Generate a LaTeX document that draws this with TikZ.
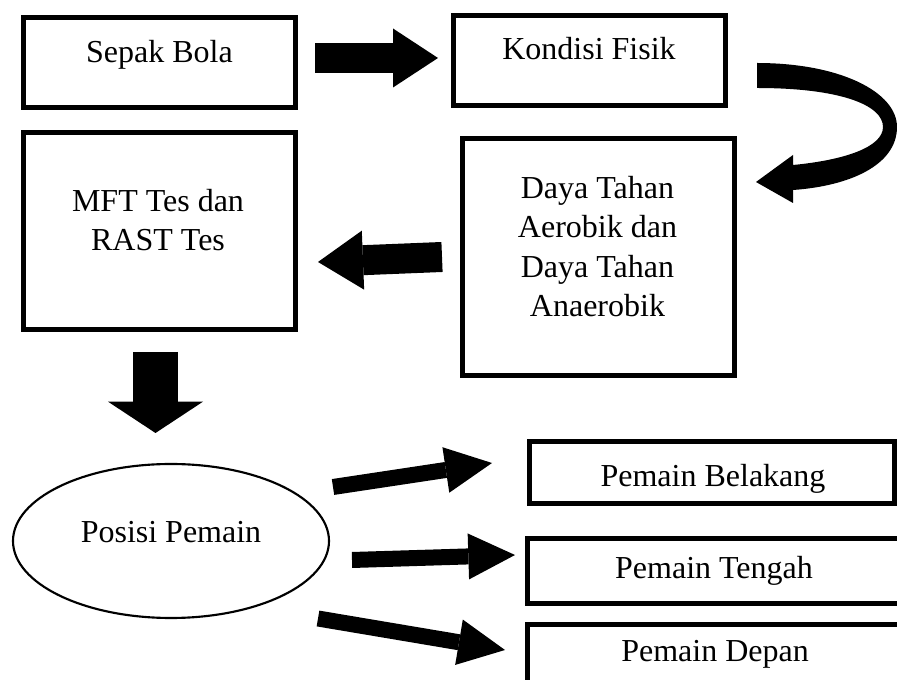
\documentclass[tikz,border=0pt]{standalone}
\usepackage{fontspec}
\setmainfont{Liberation Serif}
\usetikzlibrary{arrows.meta,shapes.geometric}
\tikzset{
  bx/.style 2 args={draw, line width=4.1pt, inner sep=0pt, minimum width=#1*0.75pt, minimum height=#2*0.75pt},
  ell/.style 2 args={draw, ellipse, line width=1.6pt, inner sep=0pt, minimum width=#1*0.75pt, minimum height=#2*0.75pt},
  txt/.style={inner sep=0pt, font=\fontsize{24}{29.5}\selectfont, align=center},
  bigarrow/.style={line width=22.5pt, -{Triangle[width=44.25pt,length=33.75pt,line width=0pt]}},
  downarrow/.style={line width=33.75pt, -{Triangle[width=71.25pt,length=23.5pt,line width=0pt]}},
  thinarrow/.style={line width=12pt, -{Triangle[width=34.5pt,length=35pt,line width=0pt]}},
  curvarrow/.style={fill=black, draw=none},
}
\begin{document}
\begin{tikzpicture}[x=0.75pt,y=-0.75pt]
\path[use as bounding box, clip] (0,0) rectangle (897,680);
% boxes
\node[bx={271.5}{89.5}] (sepak) at (159.5,62.5) {};
\node[bx={271.5}{89.5}] (kondisi) at (589.5,60.5) {};
\node[bx={271.5}{236.5}] (daya) at (598.5,257) {};
\node[bx={271.5}{196.5}] (mft) at (159.5,231) {};
\node[bx={364.5}{61.5}] (belakang) at (712,472.5) {};
\node[bx={419.5}{64.5}] (tengah) at (737.5,571) {};
\node[bx={419.5}{92.5}] (depan) at (737.5,671) {};
\node[ell={316}{154}] (posisi) at (171,541) {};
% texts
\node[txt, anchor=base] (tsepak) at (159.5,63) {Sepak Bola};
\node[txt, anchor=base] (tkondisi) at (589,60) {Kondisi Fisik};
\node[txt] (tmft) at (158,220) {MFT Tes dan\\RAST Tes};
\node[txt] (tdaya) at (597.5,246.5) {Daya Tahan\\Aerobik dan\\Daya Tahan\\Anaerobik};
\node[txt, anchor=base] (tposisi) at (171,543) {Posisi Pemain};
\node[txt, anchor=base] (tbelakang) at (713,487) {Pemain Belakang};
\node[txt, anchor=base] (ttengah) at (714,579) {Pemain Tengah};
\node[txt, anchor=base] (tdepan) at (715,662) {Pemain Depan};
% arrow end points
\coordinate (a1s) at (315,58);   \coordinate (a1e) at (438,58);
\coordinate (a2s) at (442,257);  \coordinate (a2e) at (318,262);
\coordinate (a3s) at (155.5,352); \coordinate (a3e) at (155.5,433);
\coordinate (a4s) at (333,487);  \coordinate (a4e) at (492,463);
\coordinate (a5s) at (352,560);  \coordinate (a5e) at (515,555);
\coordinate (a6s) at (318,618.5); \coordinate (a6e) at (505,650);
\coordinate (c1o) at (757,63);  \coordinate (c1i) at (757,88);
\coordinate (c1tip) at (756,182);
% arrows
\draw[bigarrow] (a1s) -- (a1e);
\draw[bigarrow] (a2s) -- (a2e);
\draw[downarrow] (a3s) -- (a3e);
\draw[thinarrow] (a4s) -- (a4e);
\draw[thinarrow] (a5s) -- (a5e);
\draw[thinarrow] (a6s) -- (a6e);
\fill[curvarrow] (c1o) .. controls (840,63) and (897,92) .. (897,127)
  .. controls (897,165) and (850,186) .. (793,190)
  -- (793,203) -- (c1tip) -- (793,155) -- (793,165)
  .. controls (845,160) and (883,147) .. (883,127)
  .. controls (883,105) and (840,88) .. (c1i) -- cycle;
\end{tikzpicture}
\end{document}
